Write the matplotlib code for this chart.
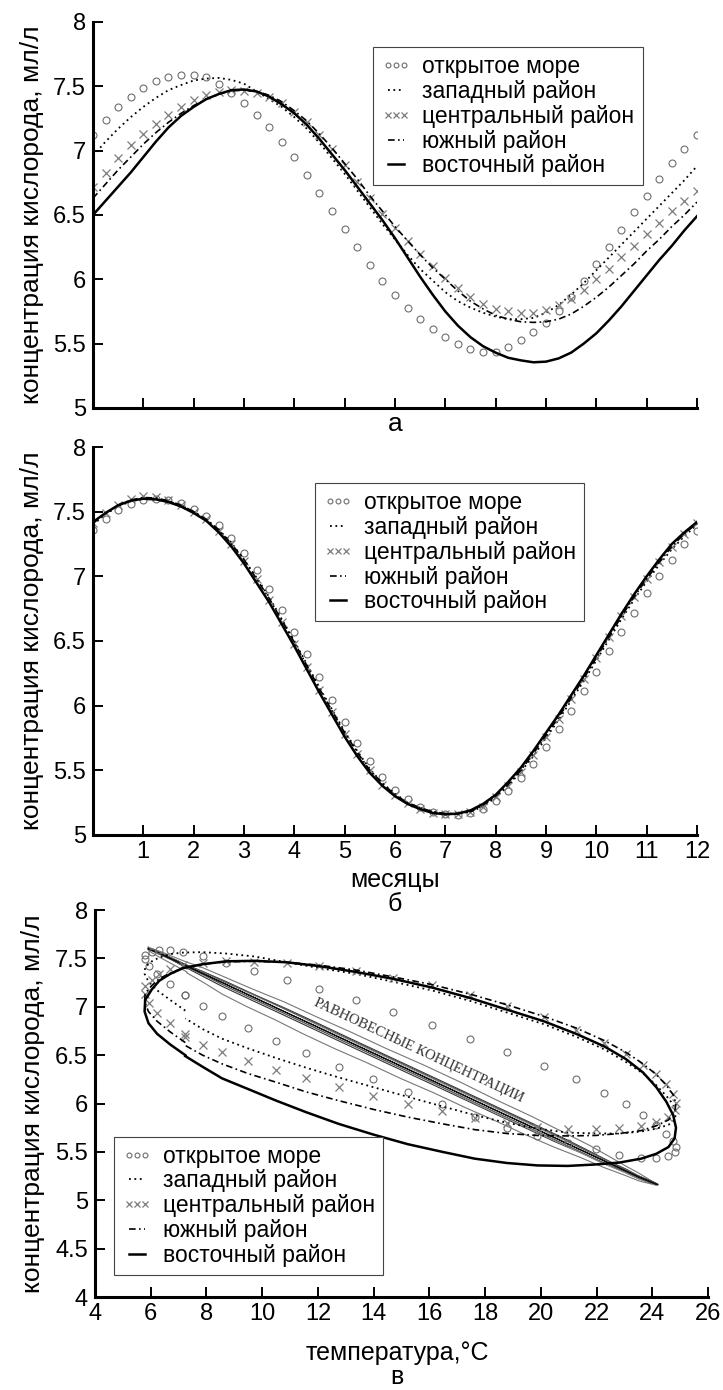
import numpy as np
import matplotlib
matplotlib.use("Agg")
import matplotlib.pyplot as plt
from matplotlib.ticker import FormatStrFormatter

plt.rcParams["font.family"] = ["Liberation Sans", "DejaVu Sans"]

# months sampled every quarter of a month
months = np.linspace(0, 12, 49)

REGIONS = ["открытое море", "западный район", "центральный район",
           "южный район", "восточный район"]

# --- panel a: oxygen concentration, ml/l
open_sea_a = [7.12, 7.24, 7.34, 7.42, 7.49, 7.54, 7.57, 7.585, 7.585, 7.57, 7.52, 7.45,
              7.37, 7.28, 7.18, 7.07, 6.95, 6.81, 6.67, 6.53, 6.39, 6.25, 6.11, 5.99,
              5.88, 5.78, 5.69, 5.61, 5.55, 5.50, 5.46, 5.435, 5.435, 5.47, 5.53, 5.59,
              5.66, 5.75, 5.86, 5.99, 6.12, 6.25, 6.38, 6.52, 6.65, 6.78, 6.90, 7.01, 7.12]
west_a = [6.96, 7.07, 7.17, 7.26, 7.34, 7.41, 7.47, 7.51, 7.545, 7.56, 7.565, 7.55,
          7.52, 7.46, 7.40, 7.34, 7.26, 7.17, 7.06, 6.94, 6.82, 6.69, 6.56, 6.43,
          6.31, 6.19, 6.08, 5.99, 5.90, 5.83, 5.78, 5.74, 5.71, 5.69, 5.69, 5.70,
          5.74, 5.80, 5.88, 5.97, 6.07, 6.17, 6.27, 6.37, 6.47, 6.57, 6.67, 6.77, 6.88]
central_a = [6.72, 6.83, 6.94, 7.04, 7.13, 7.21, 7.28, 7.34, 7.39, 7.43, 7.455, 7.47,
             7.465, 7.45, 7.42, 7.37, 7.30, 7.22, 7.12, 7.01, 6.89, 6.76, 6.63, 6.51,
             6.40, 6.30, 6.20, 6.10, 6.01, 5.93, 5.86, 5.81, 5.77, 5.75, 5.74, 5.74,
             5.76, 5.80, 5.85, 5.92, 6.00, 6.08, 6.17, 6.26, 6.35, 6.44, 6.53, 6.61, 6.69]
south_a = [6.63, 6.74, 6.85, 6.95, 7.05, 7.14, 7.22, 7.29, 7.35, 7.40, 7.44, 7.465,
           7.47, 7.46, 7.43, 7.38, 7.31, 7.23, 7.13, 7.02, 6.90, 6.78, 6.65, 6.53,
           6.41, 6.30, 6.19, 6.09, 6.00, 5.91, 5.83, 5.77, 5.72, 5.69, 5.67, 5.665,
           5.67, 5.69, 5.73, 5.79, 5.86, 5.94, 6.03, 6.12, 6.22, 6.31, 6.41, 6.50, 6.60]
east_a = [6.50, 6.61, 6.72, 6.83, 6.95, 7.07, 7.18, 7.27, 7.34, 7.40, 7.44, 7.47,
          7.475, 7.46, 7.42, 7.36, 7.29, 7.20, 7.09, 6.97, 6.85, 6.72, 6.59, 6.46,
          6.32, 6.17, 6.02, 5.88, 5.75, 5.64, 5.55, 5.48, 5.43, 5.39, 5.37, 5.355,
          5.36, 5.385, 5.43, 5.50, 5.58, 5.68, 5.79, 5.91, 6.03, 6.15, 6.26, 6.38, 6.49]

# --- panel b: equilibrium concentration, ml/l
open_sea_b = [7.36, 7.44, 7.51, 7.56, 7.59, 7.60, 7.59, 7.565, 7.52, 7.47, 7.40, 7.30,
              7.18, 7.05, 6.90, 6.74, 6.57, 6.40, 6.22, 6.04, 5.87, 5.71, 5.57, 5.45,
              5.35, 5.28, 5.22, 5.18, 5.16, 5.155, 5.17, 5.20, 5.26, 5.34, 5.44, 5.55,
              5.68, 5.82, 5.96, 6.11, 6.26, 6.42, 6.57, 6.72, 6.87, 7.00, 7.13, 7.25, 7.35]
west_b = [7.40, 7.48, 7.54, 7.58, 7.60, 7.60, 7.58, 7.55, 7.50, 7.44, 7.36, 7.26,
          7.13, 6.99, 6.84, 6.67, 6.50, 6.32, 6.14, 5.97, 5.80, 5.65, 5.51, 5.40,
          5.32, 5.25, 5.21, 5.18, 5.165, 5.165, 5.18, 5.22, 5.29, 5.38, 5.49, 5.61,
          5.75, 5.89, 6.04, 6.19, 6.35, 6.51, 6.67, 6.82, 6.96, 7.09, 7.21, 7.31, 7.40]
central_b = [7.41, 7.49, 7.55, 7.60, 7.62, 7.615, 7.59, 7.55, 7.50, 7.44, 7.35, 7.25,
             7.12, 6.98, 6.82, 6.65, 6.48, 6.30, 6.12, 5.95, 5.78, 5.63, 5.50, 5.39,
             5.31, 5.25, 5.20, 5.17, 5.16, 5.16, 5.18, 5.22, 5.29, 5.38, 5.49, 5.62,
             5.76, 5.90, 6.05, 6.21, 6.37, 6.53, 6.69, 6.84, 6.98, 7.11, 7.23, 7.33, 7.41]
south_b = [7.41, 7.49, 7.55, 7.59, 7.61, 7.605, 7.585, 7.55, 7.50, 7.44, 7.36, 7.25,
           7.13, 6.98, 6.83, 6.66, 6.49, 6.31, 6.13, 5.96, 5.79, 5.64, 5.50, 5.40,
           5.31, 5.25, 5.21, 5.18, 5.165, 5.165, 5.18, 5.23, 5.30, 5.39, 5.50, 5.63,
           5.77, 5.91, 6.06, 6.21, 6.37, 6.53, 6.69, 6.84, 6.98, 7.11, 7.23, 7.33, 7.41]
east_b = [7.42, 7.49, 7.55, 7.585, 7.60, 7.595, 7.575, 7.54, 7.49, 7.43, 7.34, 7.23,
          7.10, 6.95, 6.80, 6.63, 6.46, 6.28, 6.10, 5.93, 5.76, 5.61, 5.48, 5.38,
          5.30, 5.24, 5.20, 5.17, 5.16, 5.165, 5.19, 5.24, 5.31, 5.41, 5.52, 5.65,
          5.79, 5.93, 6.08, 6.23, 6.39, 6.55, 6.71, 6.86, 7.00, 7.13, 7.25, 7.34, 7.42]

# --- panel c: water temperature, deg C (same months)
temperature = [7.24, 6.70, 6.23, 5.92, 5.78, 5.80, 6.04, 6.31, 6.70, 7.16, 7.86, 8.71,
               9.72, 10.88, 12.05, 13.36, 14.68, 16.08, 17.47, 18.79, 20.11, 21.27, 22.28, 23.05,
               23.67, 24.14, 24.50, 24.75, 24.85, 24.80, 24.58, 24.14, 23.60, 22.82, 21.97, 20.96,
               19.88, 18.79, 17.63, 16.47, 15.22, 13.98, 12.74, 11.58, 10.50, 9.49, 8.56, 7.86, 7.24]
# temperature the equilibrium lines are drawn against (they stop short at ~24.2)
temperature_eq = [7.30, 6.78, 6.33, 6.03, 5.90, 5.92, 6.15, 6.41, 6.78, 7.22, 7.90, 8.71,
                  9.68, 10.79, 11.92, 13.17, 14.44, 15.78, 17.12, 18.38, 19.65, 20.76, 21.73, 22.47,
                  23.07, 23.52, 23.86, 24.10, 24.20, 24.15, 23.94, 23.52, 23.00, 22.25, 21.44, 20.47,
                  19.43, 18.38, 17.27, 16.16, 14.96, 13.77, 12.58, 11.47, 10.43, 9.46, 8.57, 7.90, 7.30]

series_a = [open_sea_a, west_a, central_a, south_a, east_a]
series_b = [open_sea_b, west_b, central_b, south_b, east_b]

STYLES = [
    dict(ls="none", marker="o", ms=5, mfc="none", mec="#6e6e6e", mew=0.8),
    dict(ls=(0, (1, 2)), lw=1.3, color="black"),
    dict(ls="none", marker="x", ms=6, mec="#7c7c7c", mew=0.9),
    dict(ls=(0, (4, 2, 1, 2)), lw=1.2, color="black"),
    dict(ls="-", lw=1.8, color="black"),
]
EQ_COLORS = ["#777777", "#333333", "#999999", "#555555", "#111111"]

TICK_FS = 17
LABEL_FS = 19
LEGEND_FS = 16.5
YLABEL = "концентрация кислорода, мл/л"


def style_axes(ax, xlim, xticks, ylim, yticks):
    ax.set_xlim(*xlim)
    ax.set_ylim(*ylim)
    ax.set_xticks(xticks)
    ax.set_yticks(yticks)
    ax.yaxis.set_major_formatter(FormatStrFormatter("%g"))
    ax.xaxis.set_major_formatter(FormatStrFormatter("%g"))
    for side in ("top", "right"):
        ax.spines[side].set_visible(False)
    for side in ("left", "bottom"):
        ax.spines[side].set_linewidth(2.2)
    ax.tick_params(direction="in", length=7, width=1.4, labelsize=TICK_FS)
    ax.tick_params(axis="y", pad=5)
    ax.tick_params(axis="x", pad=4)
    ax.set_ylabel(YLABEL, fontsize=LABEL_FS)
    ax.yaxis.set_label_coords(-0.081, 0.5)


def add_legend(ax, handles, **kw):
    leg = ax.legend(handles, REGIONS, fontsize=LEGEND_FS, frameon=True, fancybox=False,
                    edgecolor="#444444", framealpha=1, handlelength=1.3,
                    handletextpad=0.5, labelspacing=0.08, borderpad=0.35,
                    numpoints=3, markerscale=0.7, borderaxespad=0, **kw)
    leg.get_frame().set_linewidth(0.8)
    return leg


fig = plt.figure(figsize=(7.23, 13.9), dpi=100)
ax_a = fig.add_axes([0.1286, 0.7065, 0.8354, 0.2777])
ax_b = fig.add_axes([0.1286, 0.3993, 0.8354, 0.2791])
ax_c = fig.add_axes([0.1314, 0.0669, 0.8479, 0.2784])

# a) oxygen by month
handles = []
for values, style in zip(series_a, STYLES):
    handles.append(ax_a.plot(months, values, **style)[0])
style_axes(ax_a, (0, 12), range(1, 13), (5, 8), np.arange(5, 8.01, 0.5))
ax_a.set_xticklabels([])
add_legend(ax_a, handles, loc="upper right", bbox_to_anchor=(0.910, 0.935))

# b) equilibrium concentration by month
handles = []
for values, style in zip(series_b, STYLES):
    handles.append(ax_b.plot(months, values, **style)[0])
style_axes(ax_b, (0, 12), range(1, 13), (5, 8), np.arange(5, 8.01, 0.5))
add_legend(ax_b, handles, loc="upper right", bbox_to_anchor=(0.813, 0.907))

# c) oxygen vs temperature, with equilibrium lines
for values, color in zip(series_b, EQ_COLORS):
    ax_c.plot(temperature_eq, values, color=color, lw=0.8)
handles = []
for values, style in zip(series_a, STYLES):
    handles.append(ax_c.plot(temperature, values, **style)[0])
style_axes(ax_c, (4, 26), range(4, 27, 2), (4, 8), np.arange(4, 8.01, 0.5))
add_legend(ax_c, handles, loc="lower left", bbox_to_anchor=(0.031, 0.057))
ax_c.text(15.6, 6.55, "РАВНОВЕСНЫЕ КОНЦЕНТРАЦИИ", family=["Liberation Serif", "DejaVu Serif"],
          fontsize=10.5, color="#333333", rotation=-25, rotation_mode="anchor",
          ha="center", va="center")

# captions under the panels
fig.text(395 / 723, 1 - 424 / 1390, "а", ha="center", va="center", fontsize=LABEL_FS)
fig.text(395 / 723, 1 - 892 / 1390, "месяцы\nб", ha="center", va="center",
         fontsize=18, linespacing=0.95)
fig.text(397 / 723, 1 - 1365 / 1390, "температура,°C\nв", ha="center", va="center",
         fontsize=18, linespacing=1.05)

fig.savefig("out.png", dpi=100, facecolor="white")
